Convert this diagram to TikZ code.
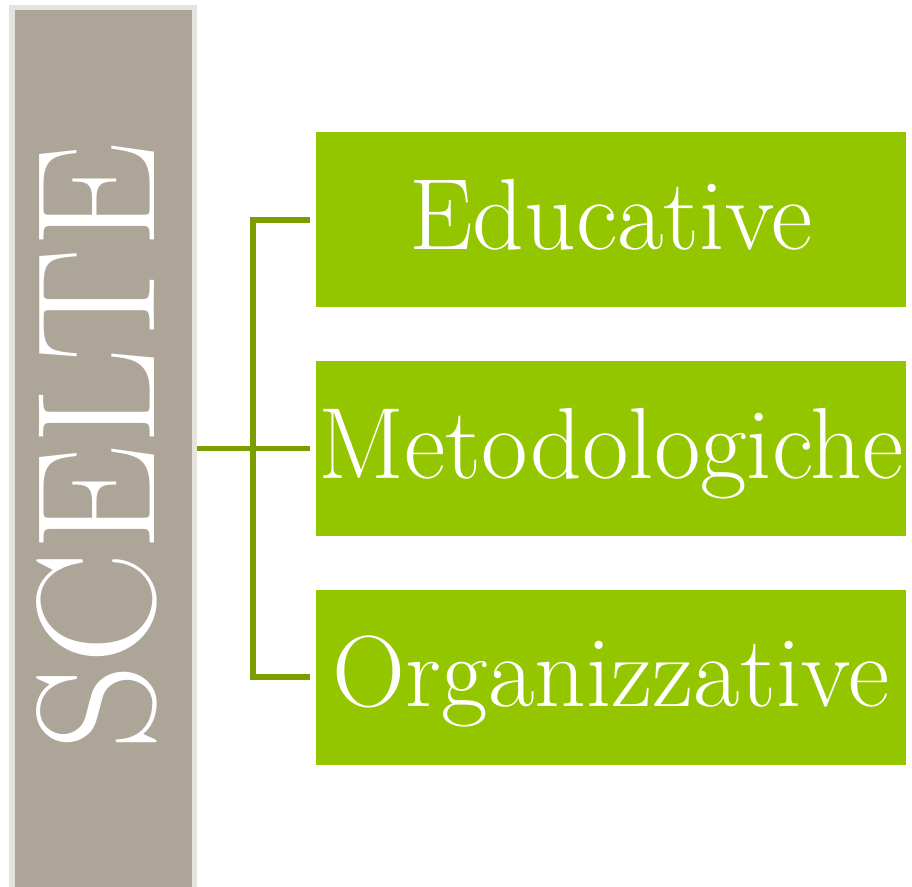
\documentclass[tikz,border=0pt]{standalone}
\usepackage{fontspec}
\usetikzlibrary{positioning}
\definecolor{sceltegray}{RGB}{173,165,152}
\definecolor{sceltebord}{RGB}{230,227,222}
\definecolor{sceltegreen}{RGB}{148,198,0}
\definecolor{linkgreen}{RGB}{122,158,0}

\begin{document}
\begin{tikzpicture}[
  x=0.025cm, y=-0.025cm,
  node distance=1.325cm,
  titlebar/.style={draw=sceltebord,fill=sceltegray,line width=3.6pt,minimum width=4.5625cm,minimum height=22.3cm,inner sep=0pt},
  choice/.style={fill=sceltegreen,text=white,minimum width=14.75cm,minimum height=4.375cm,inner sep=0pt,text height=1.475cm,text depth=0pt,font=\fontsize{72}{72}\selectfont},
  link/.style={draw=linkgreen,line width=3.9pt}
]
\useasboundingbox (0,0) rectangle (912,886);
\clip (0,0) rectangle (912,886);

\node[titlebar] (scelte) at (103.25,454) {};
\node[rotate=90,text=white,font=\fontsize{120}{120}\selectfont] (sceltetxt) at (97,447) {SCELTE};

\node[choice] (metod) at (611,448.5) {Metodologiche};
\node[choice,above = of metod] (educ) {Educative};
\node[choice,below = of metod] (organ) {Organizzative};

\coordinate (fork) at (253,448.5);
\draw[link] ([xshift=-0.13cm]educ.west) -- (fork |- educ) -- (fork |- organ) -- ([xshift=-0.13cm]organ.west);
\draw[link] (scelte.east |- metod) -- ([xshift=-0.13cm]metod.west);
\end{tikzpicture}
\end{document}
